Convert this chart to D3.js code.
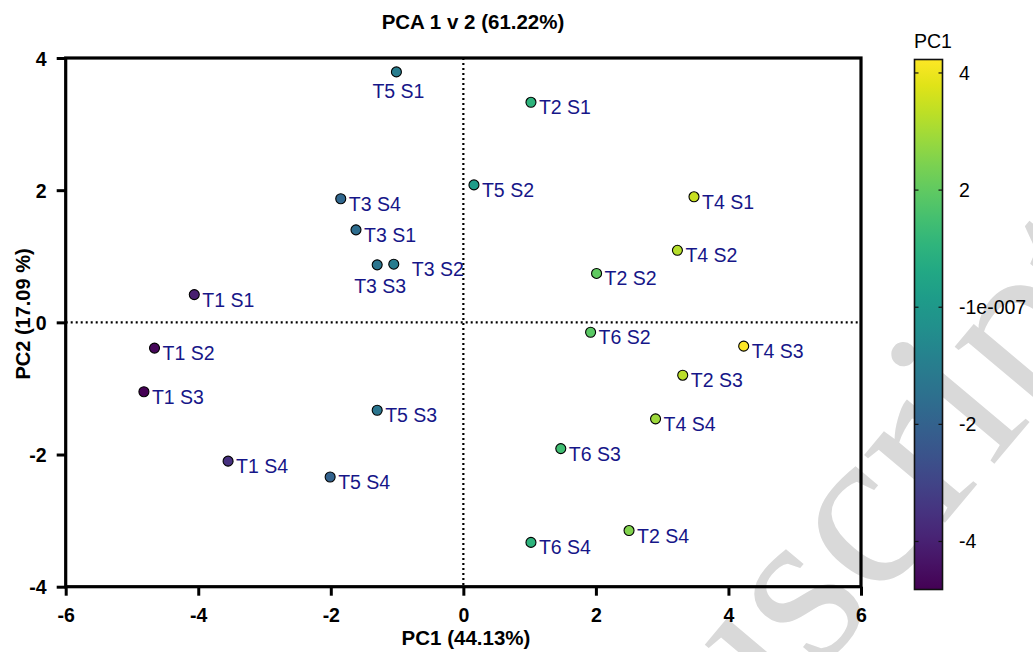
<!DOCTYPE html>
<html>
<head>
<meta charset="utf-8">
<script src="https://cdn.jsdelivr.net/npm/d3@7"></script>
<style>
  html, body { margin: 0; padding: 0; background: #fff; }
  svg { display: block; font-family: "Liberation Sans", Arial, sans-serif; }
</style>
</head>
<body>
<svg id="chart" width="1033" height="652"></svg>
<script>
// Sample scores on the first two principal components
const sampleNames = [
  "T5 S1", "T2 S1", "T5 S2", "T3 S4", "T3 S1", "T3 S3", "T3 S2", "T1 S1",
  "T4 S1", "T4 S2", "T2 S2", "T6 S2", "T4 S3", "T2 S3", "T4 S4", "T6 S3",
  "T2 S4", "T6 S4", "T1 S2", "T1 S3", "T1 S4", "T5 S4", "T5 S3"
];
const pc1 = [
  -1.01, 1.02, 0.16, -1.85, -1.62, -1.30, -1.05, -4.06,
  3.48, 3.23, 2.01, 1.92, 4.23, 3.31, 2.90, 1.47,
  2.50, 1.02, -4.66, -4.82, -3.55, -2.01, -1.30
];
const pc2 = [
  3.79, 3.33, 2.08, 1.87, 1.40, 0.87, 0.88, 0.42,
  1.90, 1.09, 0.74, -0.15, -0.36, -0.80, -1.46, -1.91,
  -3.15, -3.33, -0.39, -1.05, -2.10, -2.34, -1.33
];

const xTicks = [-6, -4, -2, 0, 2, 4, 6];
const yTicks = [-4, -2, 0, 2, 4];
const colorTicks = [4, 2, -1e-7, -2, -4];
const colorTickLabels = ["4", "2", "-1e-007", "-2", "-4"];

const titleText = "PCA 1 v 2 (61.22%)";
const xTitle = "PC1 (44.13%)";
const yTitle = "PC2 (17.09 %)";
const colorTitle = "PC1";

// Label placement tweaks for crowded points (default: right of the dot)
const labelPlacement = {
  "T5 S1": { dx: 2, dy: 26, anchor: "middle" },
  "T3 S3": { dx: 3, dy: 28, anchor: "middle" },
  "T3 S2": { dx: 18, dy: 12, anchor: "start" }
};

const svg = d3.select("#chart");

const plot = { left: 65.7, right: 861, top: 58, bottom: 586.7 };
const x = d3.scaleLinear().domain([-6, 6]).range([plot.left, plot.right]);
const y = d3.scaleLinear().domain([-4, 4]).range([plot.bottom, plot.top]);

const cExtent = d3.extent(pc1);
const color = d3.scaleSequential(d3.interpolateViridis).domain(cExtent);

// Faint background watermark
svg.append("text")
  .attr("transform", "translate(474,1084) rotate(-50)")
  .attr("font-family", "'Liberation Serif', 'Times New Roman', serif")
  .attr("font-size", 230)
  .attr("fill", "#d9d9d9")
  .text("Manuscript");

// Dotted zero lines
svg.append("line")
  .attr("x1", x(0)).attr("x2", x(0))
  .attr("y1", plot.top).attr("y2", plot.bottom)
  .attr("stroke", "#000").attr("stroke-width", 2.2)
  .attr("stroke-dasharray", "2,3");
svg.append("line")
  .attr("x1", plot.left).attr("x2", plot.right)
  .attr("y1", y(0)).attr("y2", y(0))
  .attr("stroke", "#000").attr("stroke-width", 2.2)
  .attr("stroke-dasharray", "2,3");

// Axes
const fmt = d => String(d);
const xAxis = svg.append("g")
  .attr("transform", `translate(0,${plot.bottom})`)
  .call(d3.axisBottom(x).tickValues(xTicks).tickSize(9).tickPadding(12).tickFormat(fmt));
const yAxis = svg.append("g")
  .attr("transform", `translate(${plot.left},0)`)
  .call(d3.axisLeft(y).tickValues(yTicks).tickSize(9).tickPadding(10).tickFormat(fmt));

[xAxis, yAxis].forEach(g => {
  g.attr("font-size", null).attr("font-family", null);
  g.select(".domain").remove();
  g.selectAll(".tick line").attr("stroke", "#000").attr("stroke-width", 3);
  g.selectAll(".tick text")
    .attr("fill", "#000")
    .style("font-size", "19.5px")
    .style("font-weight", "bold")
    .style("font-family", "'Liberation Sans', Arial, sans-serif");
});
yAxis.selectAll(".tick text").attr("dy", "0.36em");

// Frame around the plotting area
svg.append("rect")
  .attr("x", plot.left).attr("y", plot.top)
  .attr("width", plot.right - plot.left)
  .attr("height", plot.bottom - plot.top)
  .attr("fill", "none")
  .attr("stroke", "#000")
  .attr("stroke-width", 3.2);

// Titles
svg.append("text")
  .attr("x", 473).attr("y", 29)
  .attr("text-anchor", "middle")
  .style("font-size", "20.5px").style("font-weight", "bold")
  .text(titleText);
svg.append("text")
  .attr("x", 466).attr("y", 645)
  .attr("text-anchor", "middle")
  .style("font-size", "20.5px").style("font-weight", "bold")
  .text(xTitle);
svg.append("text")
  .attr("transform", "translate(30,314) rotate(-90)")
  .attr("text-anchor", "middle")
  .style("font-size", "20px").style("font-weight", "bold")
  .text(yTitle);

// Points and labels
const samples = sampleNames.map((name, i) => ({ name, pc1: pc1[i], pc2: pc2[i] }));

const pts = svg.append("g");
pts.selectAll("circle")
  .data(samples)
  .join("circle")
  .attr("cx", d => x(d.pc1))
  .attr("cy", d => y(d.pc2))
  .attr("r", 5)
  .attr("fill", d => color(d.pc1))
  .attr("stroke", "#000")
  .attr("stroke-width", 1.1);

pts.selectAll("text")
  .data(samples)
  .join("text")
  .each(function (d) {
    const p = labelPlacement[d.name] || { dx: 8, dy: 12, anchor: "start" };
    d3.select(this)
      .attr("x", x(d.pc1) + p.dx)
      .attr("y", y(d.pc2) + p.dy)
      .attr("text-anchor", p.anchor);
  })
  .style("font-size", "19.5px")
  .attr("fill", "#161688")
  .text(d => d.name);

// Colour bar
const bar = { x: 914.5, width: 28, top: 59.5, bottom: 589.5 };
const cY = d3.scaleLinear().domain(cExtent).range([bar.bottom, bar.top]);

const defs = svg.append("defs");
const grad = defs.append("linearGradient")
  .attr("id", "pc1-grad")
  .attr("x1", 0).attr("y1", 1).attr("x2", 0).attr("y2", 0);
d3.range(0, 1.0001, 0.05).forEach(t => {
  grad.append("stop")
    .attr("offset", t)
    .attr("stop-color", color(cExtent[0] + t * (cExtent[1] - cExtent[0])));
});

svg.append("rect")
  .attr("x", bar.x).attr("y", bar.top)
  .attr("width", bar.width).attr("height", bar.bottom - bar.top)
  .attr("fill", "url(#pc1-grad)")
  .attr("stroke", "#111")
  .attr("stroke-width", 1.6);

const cTicks = svg.append("g");
colorTicks.forEach((v, i) => {
  const ty = cY(v);
  cTicks.append("line")
    .attr("x1", bar.x).attr("x2", bar.x + 4)
    .attr("y1", ty).attr("y2", ty)
    .attr("stroke", "#111").attr("stroke-width", 1.2);
  cTicks.append("line")
    .attr("x1", bar.x + bar.width - 4).attr("x2", bar.x + bar.width)
    .attr("y1", ty).attr("y2", ty)
    .attr("stroke", "#111").attr("stroke-width", 1.2);
  cTicks.append("text")
    .attr("x", 959).attr("y", ty)
    .attr("dy", "0.36em")
    .style("font-size", "19.5px")
    .attr("fill", "#000")
    .text(colorTickLabels[i]);
});

svg.append("text")
  .attr("x", 914).attr("y", 48)
  .style("font-size", "19.5px")
  .attr("fill", "#000")
  .text(colorTitle);
</script>
</body>
</html>
